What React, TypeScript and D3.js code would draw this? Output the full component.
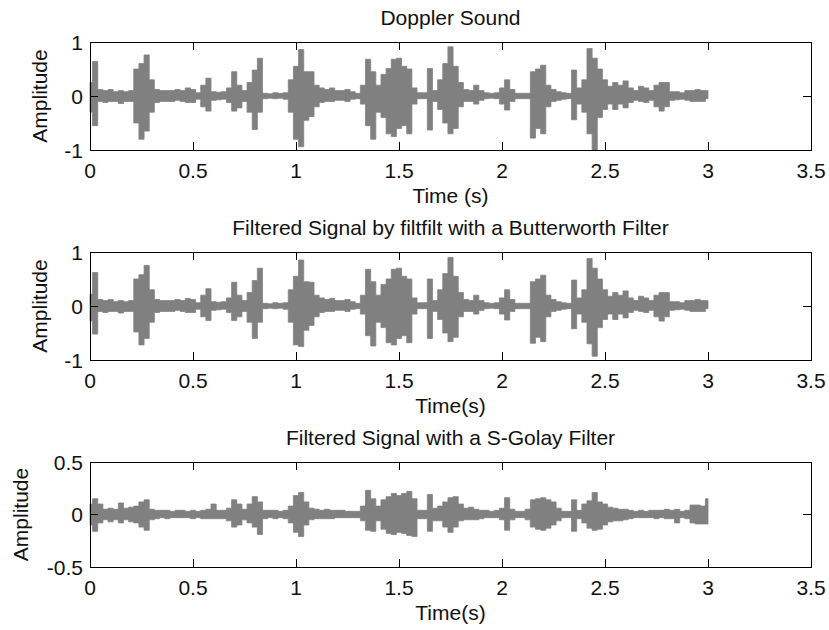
import React from 'react'
import * as d3 from 'd3'

// envelope of each signal, every 0.025 s (0 .. 3 s)
const SAMPLE_STEP = 0.025

const timeTicks = [0, 0.5, 1, 1.5, 2, 2.5, 3, 3.5]
const ampTicksWide = [-1, 0, 1]
const ampTicksNarrow = [-0.5, 0, 0.5]

const titles = [
  'Doppler Sound',
  'Filtered Signal by filtfilt with a Butterworth Filter',
  'Filtered Signal with a S-Golay Filter',
]
const xLabels = ['Time (s)', 'Time(s)', 'Time(s)']

// raw doppler sound
const rawUpper = [
  0.25, 0.64, 0.12, 0.1, 0.12, 0.08, 0.1, 0.08, 0.1, 0.5,
  0.6, 0.76, 0.3, 0.12, 0.1, 0.1, 0.1, 0.12, 0.1, 0.15,
  0.12, 0.06, 0.2, 0.33, 0.08, 0.07, 0.08, 0.15, 0.45, 0.2,
  0.1, 0.25, 0.48, 0.7, 0.05, 0.04, 0.06, 0.05, 0.06, 0.3,
  0.55, 0.86, 0.45, 0.45, 0.2, 0.15, 0.12, 0.15, 0.1, 0.1,
  0.12, 0.08, 0.05, 0.2, 0.68, 0.45, 0.2, 0.4, 0.51, 0.68,
  0.7, 0.55, 0.5, 0.15, 0.06, 0.06, 0.51, 0.1, 0.3, 0.6,
  0.91, 0.55, 0.25, 0.12, 0.1, 0.2, 0.1, 0.06, 0.05, 0.06,
  0.15, 0.3, 0.12, 0.05, 0.05, 0.05, 0.45, 0.5, 0.57, 0.2,
  0.12, 0.08, 0.06, 0.05, 0.48, 0.15, 0.3, 0.88, 0.7, 0.5,
  0.3, 0.18, 0.25, 0.2, 0.28, 0.15, 0.1, 0.18, 0.15, 0.1,
  0.2, 0.25, 0.25, 0.08, 0.08, 0.06, 0.1, 0.1, 0.12, 0.1,
  0.1,
]
const rawLower = [
  -0.3, -0.55, -0.1, -0.12, -0.1, -0.1, -0.14, -0.1, -0.1, -0.5,
  -0.8, -0.65, -0.3, -0.12, -0.1, -0.1, -0.1, -0.08, -0.1, -0.12,
  -0.12, -0.06, -0.2, -0.28, -0.08, -0.07, -0.06, -0.12, -0.28, -0.22,
  -0.1, -0.3, -0.62, -0.3, -0.05, -0.04, -0.05, -0.04, -0.06, -0.3,
  -0.8, -0.94, -0.45, -0.38, -0.2, -0.12, -0.1, -0.1, -0.08, -0.08,
  -0.1, -0.06, -0.05, -0.15, -0.55, -0.8, -0.3, -0.4, -0.7, -0.75,
  -0.6, -0.55, -0.7, -0.15, -0.05, -0.05, -0.63, -0.1, -0.25, -0.5,
  -0.7, -0.6, -0.2, -0.1, -0.1, -0.15, -0.08, -0.05, -0.04, -0.05,
  -0.15, -0.26, -0.1, -0.05, -0.05, -0.05, -0.78, -0.6, -0.7, -0.2,
  -0.1, -0.08, -0.06, -0.05, -0.44, -0.15, -0.3, -0.7, -1.0, -0.4,
  -0.25, -0.15, -0.25, -0.15, -0.22, -0.12, -0.08, -0.1, -0.12, -0.08,
  -0.2, -0.28, -0.2, -0.08, -0.07, -0.06, -0.08, -0.1, -0.1, -0.1,
  -0.05,
]

// filtfilt / butterworth
const butterUpper = [
  0.22, 0.62, 0.12, 0.1, 0.12, 0.08, 0.1, 0.08, 0.1, 0.5,
  0.58, 0.75, 0.3, 0.12, 0.1, 0.1, 0.1, 0.12, 0.1, 0.14,
  0.12, 0.06, 0.2, 0.32, 0.08, 0.07, 0.08, 0.15, 0.44, 0.2,
  0.1, 0.25, 0.47, 0.7, 0.05, 0.04, 0.06, 0.05, 0.06, 0.3,
  0.55, 0.85, 0.45, 0.44, 0.2, 0.15, 0.12, 0.14, 0.1, 0.1,
  0.12, 0.08, 0.05, 0.2, 0.68, 0.45, 0.2, 0.4, 0.5, 0.68,
  0.7, 0.55, 0.5, 0.15, 0.06, 0.06, 0.5, 0.1, 0.3, 0.6,
  0.9, 0.55, 0.25, 0.12, 0.1, 0.2, 0.1, 0.06, 0.05, 0.06,
  0.15, 0.3, 0.12, 0.05, 0.05, 0.05, 0.45, 0.5, 0.57, 0.2,
  0.12, 0.08, 0.06, 0.05, 0.48, 0.15, 0.3, 0.88, 0.7, 0.5,
  0.3, 0.18, 0.25, 0.2, 0.28, 0.15, 0.1, 0.18, 0.15, 0.1,
  0.2, 0.25, 0.25, 0.08, 0.08, 0.06, 0.1, 0.1, 0.12, 0.1,
  0.1,
]
const butterLower = [
  -0.28, -0.52, -0.1, -0.12, -0.1, -0.1, -0.13, -0.1, -0.1, -0.48,
  -0.72, -0.6, -0.3, -0.12, -0.1, -0.1, -0.1, -0.08, -0.1, -0.12,
  -0.12, -0.06, -0.2, -0.27, -0.08, -0.07, -0.06, -0.12, -0.27, -0.2,
  -0.1, -0.3, -0.6, -0.3, -0.05, -0.04, -0.05, -0.04, -0.06, -0.3,
  -0.72, -0.75, -0.45, -0.36, -0.2, -0.12, -0.1, -0.1, -0.08, -0.08,
  -0.1, -0.06, -0.05, -0.15, -0.55, -0.74, -0.3, -0.4, -0.68, -0.72,
  -0.6, -0.55, -0.68, -0.15, -0.05, -0.05, -0.6, -0.1, -0.25, -0.5,
  -0.66, -0.58, -0.2, -0.1, -0.1, -0.15, -0.08, -0.05, -0.04, -0.05,
  -0.15, -0.26, -0.1, -0.05, -0.05, -0.05, -0.69, -0.58, -0.66, -0.2,
  -0.1, -0.08, -0.06, -0.05, -0.42, -0.15, -0.3, -0.7, -0.93, -0.4,
  -0.25, -0.15, -0.25, -0.15, -0.22, -0.12, -0.08, -0.1, -0.12, -0.08,
  -0.2, -0.28, -0.2, -0.08, -0.07, -0.06, -0.08, -0.1, -0.1, -0.1,
  -0.05,
]

// savitzky-golay
const sgolayUpper = [
  0.1, 0.15, 0.1, 0.05, 0.06, 0.05, 0.11, 0.06, 0.07, 0.08,
  0.12, 0.14, 0.05, 0.04, 0.04, 0.04, 0.03, 0.04, 0.04, 0.03,
  0.04, 0.03, 0.04, 0.05, 0.1, 0.04, 0.04, 0.06, 0.14, 0.1,
  0.05, 0.1, 0.17, 0.12, 0.04, 0.04, 0.04, 0.03, 0.04, 0.08,
  0.18, 0.21, 0.12, 0.06, 0.05, 0.04, 0.05, 0.04, 0.04, 0.04,
  0.03, 0.03, 0.03, 0.08, 0.23, 0.15, 0.08, 0.14, 0.17, 0.2,
  0.18, 0.2, 0.22, 0.15, 0.04, 0.04, 0.19, 0.06, 0.08, 0.12,
  0.16, 0.17, 0.1, 0.06, 0.07, 0.05, 0.04, 0.04, 0.03, 0.04,
  0.06, 0.16, 0.05, 0.03, 0.03, 0.05, 0.14, 0.15, 0.16, 0.14,
  0.12, 0.06, 0.03, 0.03, 0.14, 0.04, 0.1, 0.13, 0.21, 0.12,
  0.1, 0.07, 0.06, 0.05, 0.05, 0.04, 0.03, 0.04, 0.03, 0.04,
  0.04, 0.04, 0.05, 0.04, 0.05, 0.03, 0.04, 0.09, 0.09, 0.08,
  0.15,
]
const sgolayLower = [
  -0.1, -0.16, -0.08, -0.05, -0.07, -0.05, -0.08, -0.05, -0.07, -0.08,
  -0.12, -0.15, -0.05, -0.04, -0.03, -0.04, -0.03, -0.03, -0.03, -0.03,
  -0.04, -0.03, -0.04, -0.04, -0.04, -0.04, -0.04, -0.06, -0.12, -0.1,
  -0.05, -0.08, -0.12, -0.19, -0.04, -0.03, -0.04, -0.03, -0.04, -0.08,
  -0.17, -0.21, -0.1, -0.05, -0.04, -0.04, -0.04, -0.04, -0.03, -0.03,
  -0.03, -0.03, -0.03, -0.06, -0.15, -0.16, -0.06, -0.14, -0.18, -0.19,
  -0.17, -0.18, -0.2, -0.21, -0.04, -0.04, -0.16, -0.06, -0.06, -0.12,
  -0.17, -0.12, -0.06, -0.05, -0.05, -0.05, -0.04, -0.03, -0.03, -0.03,
  -0.05, -0.15, -0.05, -0.03, -0.03, -0.05, -0.12, -0.14, -0.15, -0.13,
  -0.1, -0.06, -0.03, -0.03, -0.16, -0.04, -0.08, -0.13, -0.15, -0.14,
  -0.1, -0.07, -0.06, -0.06, -0.05, -0.04, -0.03, -0.03, -0.03, -0.03,
  -0.04, -0.03, -0.04, -0.04, -0.08, -0.03, -0.04, -0.08, -0.09, -0.09,
  -0.09,
]

const WIDTH = 829
const HEIGHT = 630
const LEFT = 90
const RIGHT = 811
const FONT = '"Liberation Sans", Arial, sans-serif'
const FONT_SIZE = 21
const TICK = 8

const Panel = ({ top, height, title, xLabel, yDomain, yTicks, upper, lower, yLabelX }) => {
  const x = d3.scaleLinear().domain([0, 3.5]).range([LEFT, RIGHT])
  const y = d3.scaleLinear().domain(yDomain).range([top + height, top])

  const samples = upper.map((u, i) => ({ t: i * SAMPLE_STEP, hi: u, lo: lower[i] }))

  // filled envelope, stepped so the edges stay vertical like the sampled waveform
  const area = d3
    .area()
    .x((d) => x(d.t))
    .y0((d) => y(d.lo))
    .y1((d) => y(d.hi))
    .curve(d3.curveStep)

  const bottom = top + height
  const cx = (LEFT + RIGHT) / 2
  const cy = top + height / 2

  return (
    <g>
      <path d={area(samples)} fill="#808080" stroke="#808080" strokeWidth={0.8} />

      <rect
        x={LEFT}
        y={top}
        width={RIGHT - LEFT}
        height={height}
        fill="none"
        stroke="#000"
        strokeWidth={1}
        shapeRendering="crispEdges"
      />

      {timeTicks.map((t) => (
        <g key={`xt-${t}`}>
          <line x1={x(t)} x2={x(t)} y1={bottom} y2={bottom - TICK} stroke="#000" shapeRendering="crispEdges" />
          <line x1={x(t)} x2={x(t)} y1={top} y2={top + TICK} stroke="#000" shapeRendering="crispEdges" />
          <text x={x(t)} y={bottom + 28} textAnchor="middle">
            {String(t)}
          </text>
        </g>
      ))}

      {yTicks.map((v) => (
        <g key={`yt-${v}`}>
          <line x1={LEFT} x2={LEFT + TICK} y1={y(v)} y2={y(v)} stroke="#000" shapeRendering="crispEdges" />
          <line x1={RIGHT} x2={RIGHT - TICK} y1={y(v)} y2={y(v)} stroke="#000" shapeRendering="crispEdges" />
          <text x={LEFT - 7} y={y(v)} dy="0.36em" textAnchor="end">
            {String(v)}
          </text>
        </g>
      ))}

      <text x={cx} y={top - 17} textAnchor="middle">
        {title}
      </text>
      <text x={cx} y={bottom + 53} textAnchor="middle">
        {xLabel}
      </text>
      <text transform={`translate(${yLabelX},${cy}) rotate(-90)`} textAnchor="middle">
        Amplitude
      </text>
    </g>
  )
}

const App = () => {
  const panels = [
    { top: 42, height: 108, yDomain: [-1, 1], yTicks: ampTicksWide, upper: rawUpper, lower: rawLower, yLabelX: 47 },
    { top: 252, height: 108, yDomain: [-1, 1], yTicks: ampTicksWide, upper: butterUpper, lower: butterLower, yLabelX: 47 },
    { top: 462, height: 105, yDomain: [-0.5, 0.5], yTicks: ampTicksNarrow, upper: sgolayUpper, lower: sgolayLower, yLabelX: 28 },
  ]

  return (
    <svg
      width={WIDTH}
      height={HEIGHT}
      style={{ position: 'absolute', left: 0, top: 0, background: '#fff' }}
      fontFamily={FONT}
      fontSize={FONT_SIZE}
      fill="#111"
    >
      {panels.map((p, i) => (
        <Panel key={i} {...p} title={titles[i]} xLabel={xLabels[i]} />
      ))}
    </svg>
  )
}

export default App
